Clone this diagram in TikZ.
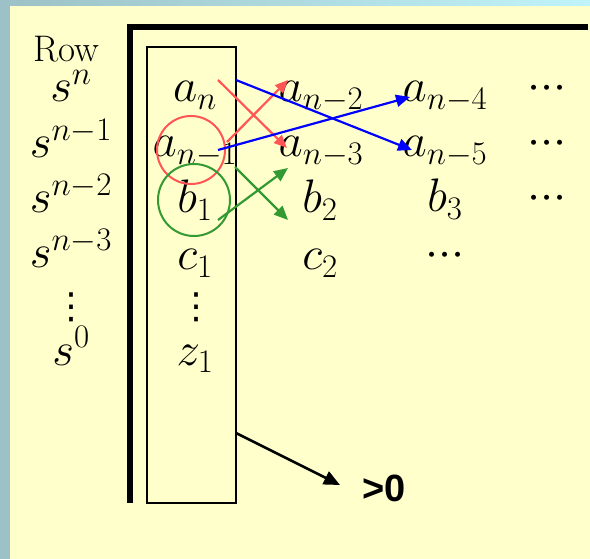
\RequirePackage{fix-cm}
\documentclass[tikz,border=0pt]{standalone}
\usepackage{fontspec}
\newfontfamily\signfont{Liberation Sans}
\newfontfamily\dotsfont{DejaVu Sans}
\usetikzlibrary{arrows.meta,positioning}
\definecolor{sheetyellow}{HTML}{FFFFCC}
\definecolor{framegray}{HTML}{9CC1C6}
\definecolor{framecyan}{HTML}{C0F4FA}
\definecolor{pairred}{HTML}{FF5555}
\definecolor{pairblue}{HTML}{0000FF}
\definecolor{pairgreen}{HTML}{339933}
\newcommand{\tallvdots}{{\dotsfont\fontsize{36}{40}\selectfont ⋮}}
\newcommand{\rowdots}{${\cdot}{\cdot}{\cdot}$}
\tikzset{
  entry/.style={anchor=base,inner sep=0pt,font=\fontsize{47}{50}\selectfont},
  rowname/.style={anchor=base,inner sep=0pt,font=\fontsize{37}{40}\selectfont},
  colbox/.style={draw,line width=2pt,minimum width=89pt,minimum height=456pt,inner sep=0pt},
  ring/.style={circle,draw,line width=2pt,inner sep=0pt},
  crossred/.style={-{Triangle[length=13pt,width=11pt]},line width=2.2pt,pairred},
  crossblue/.style={-{Triangle[length=14pt,width=12pt]},line width=2.2pt,pairblue},
  crossgreen/.style={-{Triangle[length=14pt,width=12pt]},line width=2.2pt,pairgreen},
  signarrow/.style={-{Triangle[length=16pt,width=14pt]},line width=2.5pt,black}
}
\begin{document}
\begin{tikzpicture}[x=1pt,y=-1pt]
  \useasboundingbox (0,0) rectangle (590,559);
  % slide background
  \fill[framegray] (0,0) rectangle (590,559);
  \shade[left color=framegray,right color=framecyan] (0,0) rectangle (590,6);
  \fill[sheetyellow] (10,6) rectangle (590,559);
  % table frame
  \draw[line width=6pt] (130,503) -- (130,27) -- (588,27);
  \node[colbox] (pivotcol) at (191.5,275) {};
  % row labels
  \node[rowname] (rowhead) at (66,62) {Row};
  \node[entry] (sn)  at (71,102) {$s^{n}$};
  \node[entry] (sn1) at (71,158) {$s^{n-1}$};
  \node[entry] (sn2) at (71,213) {$s^{n-2}$};
  \node[entry] (sn3) at (71,268) {$s^{n-3}$};
  \node[entry] (sdots) at (71,319) {\tallvdots};
  \node[entry] (s0)  at (71,365) {$s^{0}$};
  % first column
  \node[entry] (an)  at (195,102) {$a_{n}$};
  \node[entry] (an1) at (195,157) {$a_{n-1}$};
  \node[entry] (b1)  at (195,213) {$b_{1}$};
  \node[entry] (c1)  at (195,270) {$c_{1}$};
  \node[entry] (cdots) at (196,319) {\tallvdots};
  \node[entry] (z1)  at (195,365) {$z_{1}$};
  % second column
  \node[entry] (an2) at (321,102) {$a_{n-2}$};
  \node[entry] (an3) at (321,157) {$a_{n-3}$};
  \node[entry] (b2)  at (320,213) {$b_{2}$};
  \node[entry] (c2)  at (320,270) {$c_{2}$};
  % third column
  \node[entry] (an4) at (445,102) {$a_{n-4}$};
  \node[entry] (an5) at (445,157) {$a_{n-5}$};
  \node[entry] (b3)  at (445,212) {$b_{3}$};
  \node[entry] (r4dots) at (445,267) {\rowdots};
  % fourth column
  \node[entry] (d1) at (547,100) {\rowdots};
  \node[entry] (d2) at (547,155) {\rowdots};
  \node[entry] (d3) at (547,210) {\rowdots};
  % marked pairs
  \node[ring,draw=pairred,minimum size=68pt] (redring) at (191,150) {};
  \node[ring,draw=pairgreen,minimum size=72pt] (greenring) at (194,200) {};
  % cross products
  \coordinate (redA) at (218,80);
  \coordinate (redB) at (287,148);
  \coordinate (redC) at (227,142);
  \coordinate (redD) at (288,80);
  \coordinate (blueA) at (236,80);
  \coordinate (blueB) at (412,150);
  \coordinate (blueC) at (218,150);
  \coordinate (blueD) at (410,97);
  \coordinate (greenA) at (235,167);
  \coordinate (greenB) at (288,220);
  \coordinate (greenC) at (218,220);
  \coordinate (greenD) at (288,168);
  \draw[crossred] (redA) -- (redB);
  \draw[crossred] (redC) -- (redD);
  \draw[crossblue] (blueA) -- (blueB);
  \draw[crossblue] (blueC) -- (blueD);
  \draw[crossgreen] (greenA) -- (greenB);
  \draw[crossgreen] (greenC) -- (greenD);
  % sign of the first column
  \node[anchor=west,inner sep=0pt,font=\signfont\bfseries\fontsize{38}{42}\selectfont] (gtzero) at (362,488) {>0};
  \coordinate (signout) at (236,433);
  \coordinate (signtip) at (340,485);
  \draw[signarrow] (signout) -- (signtip);
\end{tikzpicture}
\end{document}
